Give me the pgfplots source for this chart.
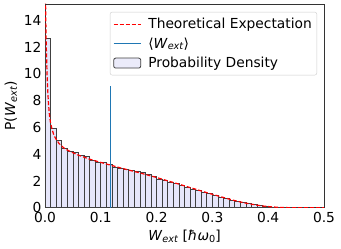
\documentclass[border=0pt]{standalone}
\usepackage{fontspec}
\setmainfont{DejaVu Sans}
\usepackage{pgfplots}
\pgfplotsset{compat=1.18}
\definecolor{lav}{HTML}{E6E6FA}
\definecolor{czero}{HTML}{1F77B4}
\newcommand{\fs}{\fontsize{13.8}{16}\selectfont}
\newcommand{\Wext}{\textit{W}\raisebox{-0.25ex}{\fontsize{9.7}{10}\selectfont\textit{ext}}}
\begin{document}
\begin{tikzpicture}
\useasboundingbox (-45pt,-41.3pt) rectangle (296pt,207.7pt);
\begin{axis}[
  at={(0pt,0pt)}, anchor=south west,
  scale only axis, width=279pt, height=203.7pt,
  xmin=0, xmax=0.5, ymin=0, ymax=15.2,
  xtick={0,0.1,0.2,0.3,0.4,0.5},
  ytick={0,2,4,6,8,10,12,14},
  xticklabel style={/pgf/number format/fixed,/pgf/number format/fixed zerofill,/pgf/number format/precision=1, yshift=-1.5pt},
  /pgf/number format/assume math mode=true,
  tick label style={font=\fs},
  major tick length=0pt,
  axis line style={black!80},
  xlabel={\Wext\ [\textit{ħω}\raisebox{-0.25ex}{\fontsize{9.7}{10}\selectfont 0}]},
  ylabel={P(\Wext)},
  label style={font=\fs},
  legend style={at={(0.975,0.961)}, anchor=north east, font=\fs, draw=black!20, rounded corners=2pt, fill=white, fill opacity=0.8, text opacity=1, row sep=3.5pt, column sep=5pt, inner xsep=3pt, inner ysep=4pt},
  legend cell align=left,
]
\addlegendimage{legend image code/.code={\draw[red, line width=1.2pt, dash pattern=on 4pt off 2pt] (0pt,0pt) -- (27pt,0pt);}}
\addlegendentry{Theoretical Expectation}
\addlegendimage{legend image code/.code={\draw[czero, line width=1.2pt] (0pt,0pt) -- (27pt,0pt);}}
\addlegendentry{⟨\Wext⟩}
\addlegendimage{legend image code/.code={\draw[fill=lav, draw=black!75, line width=0.8pt] (0pt,-5pt) rectangle (27pt,5pt);}}
\addlegendentry{Probability Density}
\addplot[ybar interval, fill=lav, draw=black!75, line width=0.7pt, forget plot] coordinates {
(0.00,12.6) (0.01,5.9) (0.02,5.05) (0.03,4.4) (0.04,4.2) (0.05,4.14) (0.06,3.9) (0.07,3.82)
(0.08,3.52) (0.09,3.42) (0.10,3.35) (0.11,3.25) (0.12,3.02) (0.13,2.95) (0.14,2.85) (0.15,2.75)
(0.16,2.68) (0.17,2.65) (0.18,2.5) (0.19,2.37) (0.20,2.15) (0.21,2.02) (0.22,1.9) (0.23,1.8)
(0.24,1.65) (0.25,1.53) (0.26,1.35) (0.27,1.27) (0.28,1.18) (0.29,1.05) (0.30,0.95) (0.31,0.8)
(0.32,0.67) (0.33,0.54) (0.34,0.44) (0.35,0.37) (0.36,0.3) (0.37,0.22) (0.38,0.15) (0.39,0.1)
(0.40,0.06) (0.41,0.035) (0.42,0.018) (0.43,0.008) (0.44,0.003) (0.45,0.001) (0.46,0.0005) (0.47,0)
};
\addplot[red, line width=1.2pt, dash pattern=on 4pt off 2pt, forget plot] coordinates {
(0.0008,16) (0.002,12.5) (0.004,9.5) (0.006,7.9) (0.008,6.9) (0.010,6.3) (0.013,5.8) (0.016,5.4)
(0.02,5.1) (0.025,4.8) (0.03,4.6) (0.035,4.42) (0.04,4.3) (0.05,4.1) (0.06,3.92) (0.07,3.77)
(0.08,3.62) (0.09,3.5) (0.10,3.38) (0.11,3.26) (0.12,3.15) (0.13,3.03) (0.14,2.92) (0.15,2.81)
(0.16,2.7) (0.17,2.6) (0.18,2.48) (0.19,2.37) (0.20,2.25) (0.21,2.13) (0.22,2.0) (0.23,1.88)
(0.24,1.76) (0.25,1.63) (0.26,1.5) (0.27,1.38) (0.28,1.25) (0.29,1.12) (0.30,1.0) (0.31,0.88)
(0.32,0.76) (0.33,0.64) (0.34,0.53) (0.35,0.43) (0.36,0.34) (0.37,0.26) (0.38,0.19) (0.39,0.13)
(0.40,0.085) (0.41,0.05) (0.42,0.025) (0.43,0.01) (0.44,0.004) (0.45,0) (0.50,0)
};
\addplot[czero, line width=1.2pt, forget plot] coordinates {(0.1177,0) (0.1177,9.1)};
\end{axis}
\end{tikzpicture}
\end{document}
